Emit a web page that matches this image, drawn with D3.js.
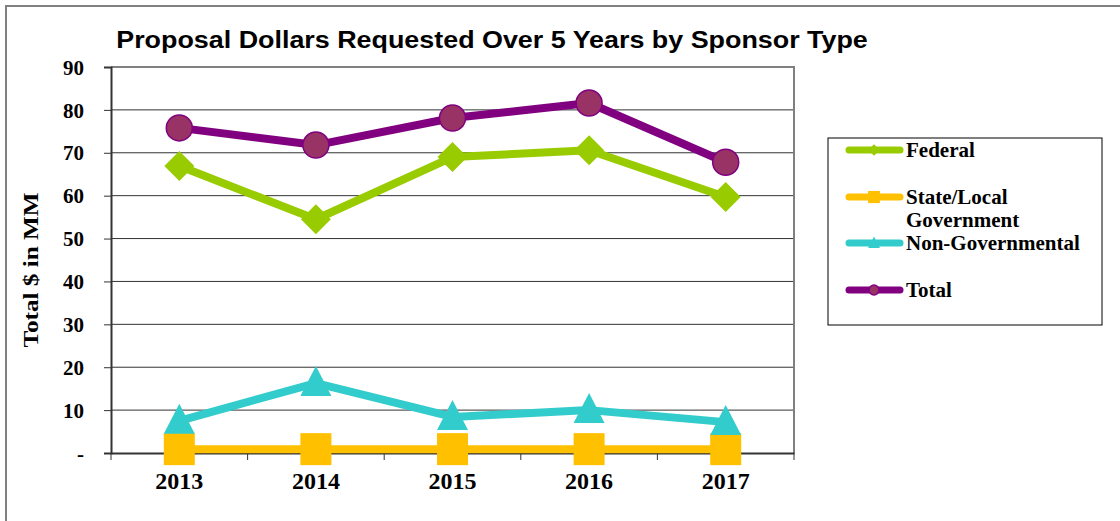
<!DOCTYPE html>
<html lang="en">
<head>
<meta charset="UTF-8">
<script src="https://cdn.jsdelivr.net/npm/d3@7"></script>
<title>Proposal Dollars</title>
<style>
  body { margin: 0; background: #fff; }
  svg { display: block; }
</style>
</head>
<body>
<script>
const years = ["2013", "2014", "2015", "2016", "2017"];
const federal = [66.9, 54.5, 69.0, 70.6, 59.7];
const stateLocal = [0.9, 0.9, 0.9, 0.9, 0.9];
const nonGov = [7.5, 16.3, 8.4, 10.0, 7.2];
const total = [75.8, 71.8, 78.1, 81.6, 67.8];
const yTicks = [0, 10, 20, 30, 40, 50, 60, 70, 80, 90];

const w = 1120, h = 521;
const plot = {left: 111, right: 794, top: 67, bottom: 453};
const serif = "'Liberation Serif', 'Times New Roman', serif";

const series = [
  {name: "Federal", values: federal, color: "#99CC00", marker: "diamond"},
  {name: "State/Local Government", values: stateLocal, color: "#FFC000", marker: "square"},
  {name: "Non-Governmental", values: nonGov, color: "#33CCCC", marker: "triangle"},
  {name: "Total", values: total, color: "#800080", marker: "circle"}
];

const svg = d3.select("body").append("svg").attr("width", w).attr("height", h);

// outer frame
svg.append("rect").attr("x", 6).attr("y", 6).attr("width", w + 10).attr("height", h + 10)
  .attr("fill", "none").attr("stroke", "#808080").attr("stroke-width", 2);

const x = d3.scaleBand().domain(years).range([plot.left, plot.right]);
const y = d3.scaleLinear().domain([0, 90]).range([plot.bottom, plot.top]);

// gridlines
svg.append("g").selectAll("line").data(yTicks.slice(1, -1)).enter().append("line")
  .attr("x1", plot.left).attr("x2", plot.right)
  .attr("y1", d => y(d)).attr("y2", d => y(d))
  .attr("stroke", "#333").attr("stroke-width", 1);

// plot border (top / right)
svg.append("path")
  .attr("d", `M${plot.left},${plot.top}H${plot.right}V${plot.bottom}`)
  .attr("fill", "none").attr("stroke", "#808080").attr("stroke-width", 2);

// y axis
const yAxis = svg.append("g").attr("transform", `translate(${plot.left},0)`)
  .call(d3.axisLeft(y).tickValues(yTicks).tickSize(7).tickFormat(d => d === 0 ? "-" : d));
yAxis.select(".domain").attr("stroke", "#333").attr("stroke-width", 2);
yAxis.selectAll(".tick line").attr("stroke", "#333");
yAxis.selectAll("text").attr("x", -27).attr("dy", "0.34em")
  .style("font-family", serif)
  .style("font-weight", "bold").style("font-size", "21px").attr("fill", "#000");

// x axis
const xAxis = svg.append("g").attr("transform", `translate(0,${plot.bottom})`)
  .call(d3.axisBottom(x).tickSize(0).tickPadding(0));
xAxis.select(".domain").attr("stroke", "#333").attr("stroke-width", 2);
xAxis.selectAll("text").attr("y", 36).attr("dy", 0)
  .style("font-family", serif)
  .style("font-weight", "bold").style("font-size", "24px").attr("fill", "#000");
// boundary ticks
const bounds = years.map(d => x(d)).concat([plot.right]);
svg.append("g").selectAll("line").data(bounds).enter().append("line")
  .attr("x1", d => d).attr("x2", d => d)
  .attr("y1", plot.bottom).attr("y2", plot.bottom + 7)
  .attr("stroke", "#333").attr("stroke-width", 1);

// title
svg.append("text").attr("transform", "translate(492,48) scale(1.12,1)").attr("text-anchor", "middle")
  .style("font-family", "'Liberation Sans', Arial, sans-serif")
  .style("font-weight", "bold").style("font-size", "24px")
  .text("Proposal Dollars Requested Over 5 Years by Sponsor Type");

// y title
svg.append("text").attr("transform", "translate(38,270) rotate(-90) scale(1.2,1)")
  .attr("text-anchor", "middle")
  .style("font-family", serif)
  .style("font-weight", "bold").style("font-size", "21px")
  .text("Total $ in MM");

const cx = d => x(d) + x.bandwidth() / 2;
const line = d3.line().x((v, i) => cx(years[i])).y(v => y(v));

function drawMarker(g, type, color, px, py, s) {
  if (type === "diamond") {
    g.append("path").attr("d", `M${px},${py - 15 * s}L${px + 15 * s},${py}L${px},${py + 15 * s}L${px - 15 * s},${py}Z`)
      .attr("fill", color);
  } else if (type === "square") {
    g.append("rect").attr("x", px - 15.5 * s).attr("y", py - 16 * s)
      .attr("width", 31 * s).attr("height", 32 * s).attr("fill", color);
  } else if (type === "triangle") {
    g.append("path").attr("d", `M${px},${py - 17 * s}L${px + 15.5 * s},${py + 13 * s}L${px - 15.5 * s},${py + 13 * s}Z`)
      .attr("fill", color);
  } else {
    g.append("circle").attr("cx", px).attr("cy", py).attr("r", 13 * s)
      .attr("fill", "#993366").attr("stroke", color).attr("stroke-width", 1.5);
  }
}

// draw order: state first so triangles sit over square tops
const order = [1, 2, 0, 3];
order.forEach(i => {
  const s = series[i];
  const g = svg.append("g");
  g.append("path").datum(s.values).attr("d", line)
    .attr("fill", "none").attr("stroke", s.color)
    .attr("stroke-width", 8).attr("stroke-linejoin", "round");
  s.values.forEach((v, j) => drawMarker(g, s.marker, s.color, cx(years[j]), y(v), 1));
});

// legend
const legend = svg.append("g");
legend.append("rect").attr("x", 828).attr("y", 138).attr("width", 274).attr("height", 187)
  .attr("fill", "#fff").attr("stroke", "#000").attr("stroke-width", 1);
const legY = [150, 197, 243, 290];
series.forEach((s, i) => {
  const ly = legY[i];
  legend.append("line").attr("x1", 849).attr("x2", 900).attr("y1", ly).attr("y2", ly)
    .attr("stroke", s.color).attr("stroke-width", 7).attr("stroke-linecap", "round");
  drawMarker(legend, s.marker, s.color, 874, ly, 0.38);
  const t = legend.append("text").attr("x", 906).attr("y", ly + 7)
    .style("font-family", serif)
    .style("font-weight", "bold").style("font-size", "21px");
  if (s.name === "State/Local Government") {
    t.append("tspan").attr("x", 906).text("State/Local");
    t.append("tspan").attr("x", 906).attr("dy", 23).text("Government");
  } else {
    t.text(s.name);
  }
});
</script>
</body>
</html>
